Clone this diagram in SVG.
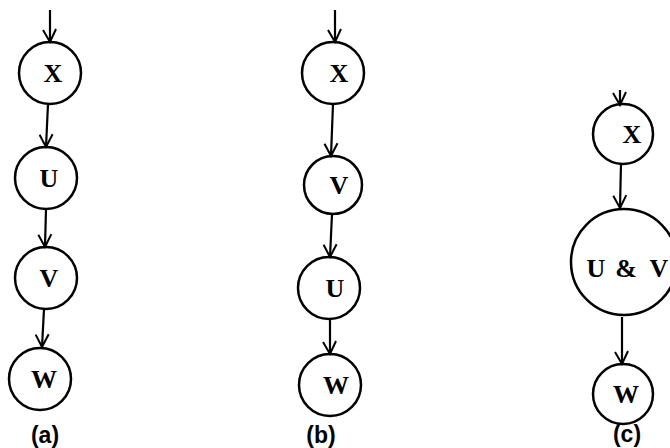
<svg xmlns="http://www.w3.org/2000/svg" width="670" height="448" viewBox="0 0 670 448">
<defs>
<style>
.node{fill:none;stroke:#000;stroke-width:2.5}
.lbl{font-family:"Liberation Serif","DejaVu Serif",serif;font-weight:bold;font-size:26px;text-anchor:middle;fill:#000}
.cap{font-family:"Liberation Sans","DejaVu Sans",sans-serif;font-weight:bold;font-size:23px;text-anchor:middle;fill:#000}
.edge{stroke:#000;stroke-width:2.2;fill:none;marker-end:url(#ah)}
</style>
<marker id="ah" markerWidth="16" markerHeight="16" refX="14" refY="8" orient="auto" markerUnits="userSpaceOnUse" viewBox="0 0 16 16">
<path d="M1,2 L14,8 L2,15" fill="none" stroke="#000" stroke-width="2"/>
</marker>
</defs>
<rect width="670" height="448" fill="#fff"/>
<g id="connectors">
<line class="edge" x1="50" y1="10" x2="50" y2="42"/>
<line class="edge" x1="48" y1="104" x2="46" y2="147"/>
<line class="edge" x1="46" y1="209" x2="45" y2="247"/>
<line class="edge" x1="44" y1="309" x2="42" y2="347"/>
<line class="edge" x1="335" y1="10" x2="335" y2="42"/>
<line class="edge" x1="333" y1="104" x2="331" y2="156"/>
<line class="edge" x1="332" y1="214" x2="330" y2="257"/>
<line class="edge" x1="330" y1="319" x2="330" y2="354"/>
<line class="edge" x1="620" y1="90" x2="620" y2="105"/>
<line class="edge" x1="621" y1="163" x2="620" y2="208"/>
<line class="edge" x1="622" y1="317" x2="622" y2="364"/>
</g>
<g id="a_X"><circle class="node" cx="50" cy="73" r="31"/><text class="lbl" x="53" y="82">X</text></g>
<g id="a_U"><circle class="node" cx="46" cy="178" r="31"/><text class="lbl" x="49" y="187">U</text></g>
<g id="a_V"><circle class="node" cx="46" cy="278" r="31"/><text class="lbl" x="49" y="287">V</text></g>
<g id="a_W"><circle class="node" cx="40" cy="379" r="31"/><text class="lbl" x="44" y="388">W</text></g>
<text class="cap" x="45" y="443">(a)</text>
<g id="b_X"><circle class="node" cx="333" cy="73" r="31"/><text class="lbl" x="339" y="82">X</text></g>
<g id="b_V"><circle class="node" cx="333" cy="185" r="29"/><text class="lbl" x="339" y="194">V</text></g>
<g id="b_U"><circle class="node" cx="329" cy="288" r="31"/><text class="lbl" x="335" y="297">U</text></g>
<g id="b_W"><circle class="node" cx="330" cy="385" r="31"/><text class="lbl" x="336" y="394">W</text></g>
<text class="cap" x="321" y="443">(b)</text>
<g id="c_X"><circle class="node" cx="623" cy="134" r="30"/><text class="lbl" x="632" y="143">X</text></g>
<g id="c_UV"><circle class="node" cx="624" cy="262" r="53"/><text class="lbl" y="277"><tspan x="596">U</tspan><tspan x="626">&amp;</tspan><tspan x="659">V</tspan></text></g>
<g id="c_W"><circle class="node" cx="623" cy="394" r="30"/><text class="lbl" x="626" y="403">W</text></g>
<text class="cap" x="627" y="442">(c)</text>
</svg>
